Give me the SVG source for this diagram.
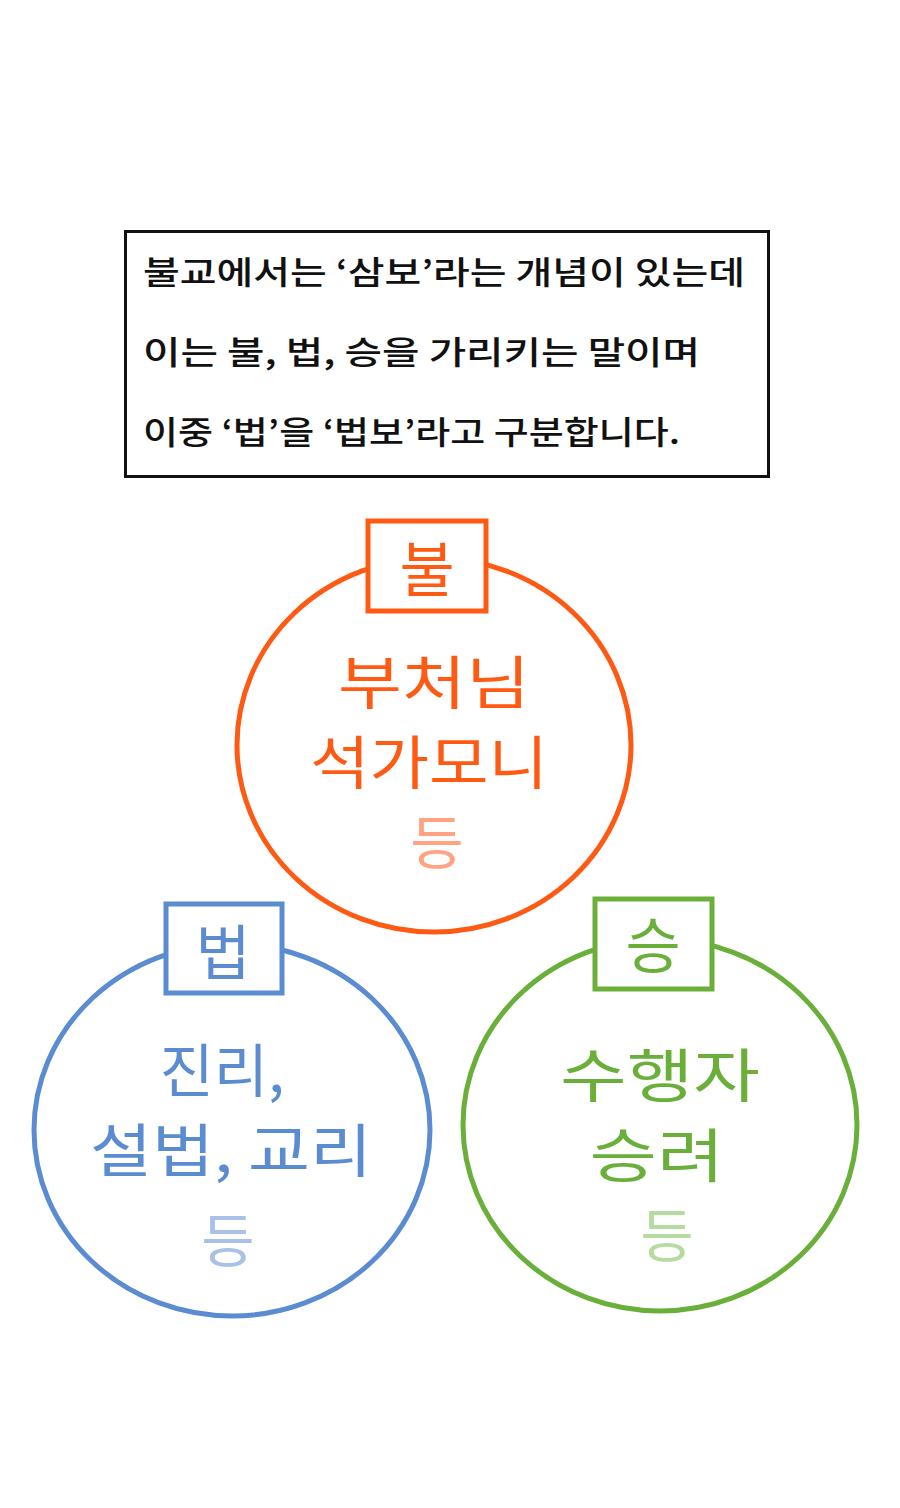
<svg xmlns="http://www.w3.org/2000/svg" width="900" height="1508" viewBox="0 0 900 1508">
<style>
text{font-family:"Noto Sans CJK KR","Noto Sans",sans-serif;text-anchor:middle}
.hdr{font-size:32px;font-weight:500;fill:#111;text-anchor:start}
.big{font-size:58px;font-weight:400}
.lbl{font-size:60px;font-weight:400}
.o{fill:#FF5A14}.o2{fill:#FFA382}
.b{fill:#5B8BD0}.b2{fill:#A9C1E6}
.g{fill:#6AAF3A}.g2{fill:#B5DBA0}
.ring{fill:none;stroke-width:5}
.box{fill:#fff;stroke-width:5}
</style>
<rect width="900" height="1508" fill="#fff"/>
<g id="intro">
<rect x="125.5" y="231.5" width="643" height="245" fill="#fff" stroke="#111" stroke-width="3"/>
<text class="hdr" x="143" y="284" textLength="602" lengthAdjust="spacingAndGlyphs">불교에서는 ‘삼보’라는 개념이 있는데</text>
<text class="hdr" x="143" y="364" textLength="557" lengthAdjust="spacingAndGlyphs">이는 불, 법, 승을 가리키는 말이며</text>
<text class="hdr" x="143" y="444" textLength="537" lengthAdjust="spacingAndGlyphs">이중 ‘법’을 ‘법보’라고 구분합니다.</text>
</g>
<g id="connectors"></g>
<g id="bul">
<ellipse class="ring" cx="434" cy="745" rx="197" ry="187" stroke="#FF5A14"/>
<rect class="box" x="368" y="521" width="118" height="90" stroke="#FF5A14"/>
<text class="lbl o" x="427" y="592">불</text>
<text class="big o" x="434" y="704" textLength="192" lengthAdjust="spacingAndGlyphs">부처님</text>
<text class="big o" x="429" y="784" textLength="238" lengthAdjust="spacingAndGlyphs">석가모니</text>
<text class="big o2" x="437" y="864">등</text>
</g>
<g id="beop">
<ellipse class="ring" cx="232" cy="1130" rx="198" ry="186" stroke="#5B8BD0"/>
<rect class="box" x="166" y="904" width="116" height="89" stroke="#5B8BD0"/>
<text class="lbl b" x="223" y="975">법</text>
<text class="big b" x="222" y="1092" textLength="125" lengthAdjust="spacingAndGlyphs">진리,</text>
<text class="big b" x="231" y="1172" textLength="282" lengthAdjust="spacingAndGlyphs">설법, 교리</text>
<text class="big b2" x="228" y="1262">등</text>
</g>
<g id="seung">
<ellipse class="ring" cx="660" cy="1125" rx="197" ry="186" stroke="#6AAF3A"/>
<rect class="box" x="595" y="899" width="117" height="90" stroke="#6AAF3A"/>
<text class="lbl g" x="653" y="968">승</text>
<text class="big g" x="660" y="1097" textLength="200" lengthAdjust="spacingAndGlyphs">수행자</text>
<text class="big g" x="657" y="1177" textLength="135" lengthAdjust="spacingAndGlyphs">승려</text>
<text class="big g2" x="667" y="1257">등</text>
</g>
</svg>
